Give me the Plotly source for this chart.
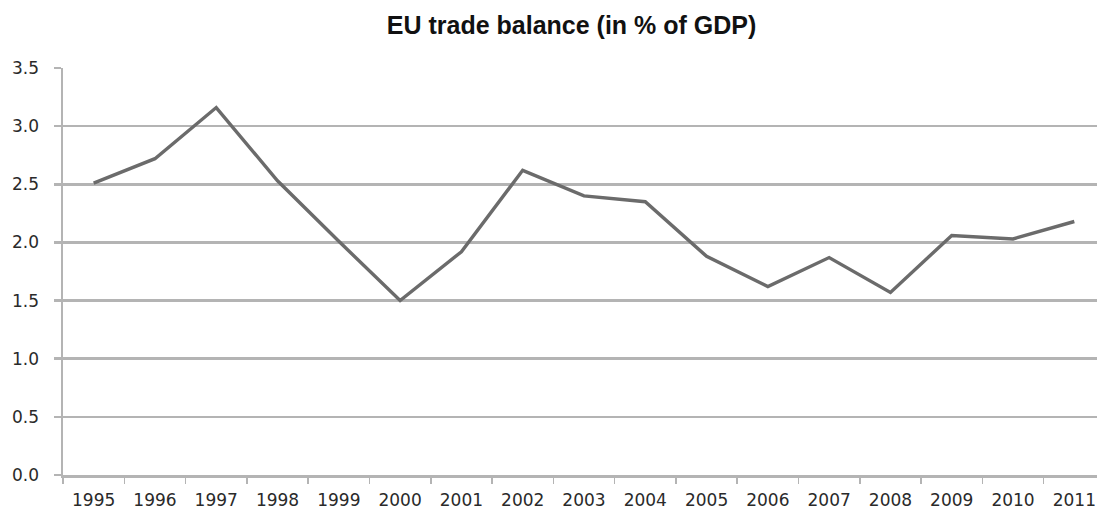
import plotly.graph_objects as go

years = ["1995", "1996", "1997", "1998", "1999", "2000", "2001", "2002", "2003",
         "2004", "2005", "2006", "2007", "2008", "2009", "2010", "2011"]
balance = [2.51, 2.72, 3.16, 2.53, 2.01, 1.50, 1.92, 2.62, 2.40,
           2.35, 1.88, 1.62, 1.87, 1.57, 2.06, 2.03, 2.18]
y_ticks = [0.0, 0.5, 1.0, 1.5, 2.0, 2.5, 3.0, 3.5]
title_text = "EU trade balance (in % of GDP)"

fig = go.Figure()
fig.add_trace(go.Scatter(
    x=years, y=balance, mode="lines",
    line=dict(color="#6b6b6b", width=3.4),
    hoverinfo="x+y", showlegend=False,
))

grid = "#b4b4b4"
tick_font = dict(family="DejaVu Sans", size=17, color="#2a2a2a")
fig.update_layout(
    width=1097, height=512,
    margin=dict(l=63, r=0, t=68, b=37, autoexpand=False),
    paper_bgcolor="white", plot_bgcolor="white",
    title=dict(text="<b>" + title_text + "</b>", x=0.521, xanchor="center",
               y=0.951, yanchor="middle",
               font=dict(family="Liberation Sans, Arial", size=25, color="#111111")),
    xaxis=dict(
        type="category", range=[-0.5, 16.37], tickson="boundaries",
        showgrid=False, showline=True, linecolor=grid, linewidth=2.5,
        ticks="outside", ticklen=6, tickwidth=1.5, tickcolor=grid,
        ticklabelstandoff=8, automargin=False,
        tickfont=tick_font, fixedrange=True,
    ),
    yaxis=dict(
        range=[0, 3.5], tickvals=y_ticks, tickformat=".1f",
        showgrid=True, gridcolor=grid, gridwidth=2.5,
        showline=True, linecolor=grid, linewidth=2.5,
        ticks="outside", ticklen=7, tickwidth=2.5, tickcolor=grid,
        ticklabelstandoff=11, automargin=False,
        tickfont=tick_font, zeroline=False, fixedrange=True,
    ),
)

fig.write_html("out.html",
               config={"displayModeBar": False, "staticPlot": True},
               post_script="document.body.style.margin='0';document.body.style.overflow='hidden';")
